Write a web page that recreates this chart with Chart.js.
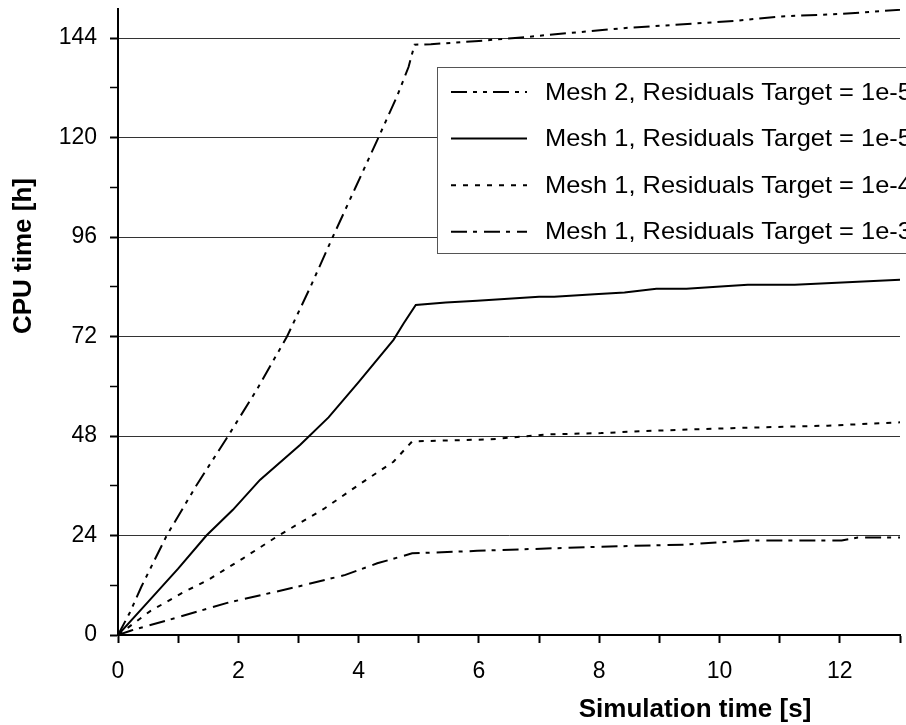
<!DOCTYPE html>
<html lang="en">
<head>
  <meta charset="UTF-8">
  <title>CPU time vs simulation time</title>
  <script src="https://cdn.jsdelivr.net/npm/chart.js"></script>
  <style>
    body {
      margin: 0;
      padding: 0;
      background-color: #ffffff;
    }
    #wrap {
      width: 906px;
      height: 725px;
    }
  </style>
</head>
<body>
  <div id="wrap">
    <canvas id="cpuChart" width="906" height="725"></canvas>
  </div>
  <script>
    // values (simulation time [s] -> CPU time [h])
    const mesh2Time = [0, 0.2, 0.39, 0.81, 1.3, 1.83, 2.3, 2.81, 3.2, 3.57, 3.95, 4.33, 4.64, 4.83, 4.93, 5.2, 6.0, 6.6, 7.5, 8.5, 9.4, 10.3, 11.0, 12.0, 13.0];
    const mesh2Cpu = [0, 5.5, 11.7, 24, 36, 48, 59, 72, 84, 96, 108, 120, 130, 137, 142.4, 142.5, 143.3, 144.0, 145.2, 146.5, 147.3, 148.2, 149.2, 149.8, 150.8];

    const mesh1e5Time = [0, 0.5, 1.0, 1.47, 1.91, 2.36, 3.03, 3.5, 4.0, 4.58, 4.75, 4.95, 5.45, 5.97, 7.0, 7.25, 7.92, 8.42, 8.95, 9.45, 10.08, 10.47, 11.25, 13.0];
    const mesh1e5Cpu = [0, 8, 16, 24, 30.2, 37.4, 45.9, 52.5, 61, 71.2, 75.2, 79.6, 80.2, 80.6, 81.6, 81.6, 82.2, 82.6, 83.5, 83.5, 84.1, 84.5, 84.5, 85.7];

    const mesh1e4Time = [0, 0.53, 1.06, 1.5, 2.08, 2.67, 3.42, 4.0, 4.58, 4.89, 6.2, 7.14, 8.03, 8.75, 10.2, 11.8, 13.0];
    const mesh1e4Cpu = [0, 5.7, 10.1, 13.3, 18.5, 24, 30.4, 36.2, 41.8, 46.7, 47.2, 48.4, 48.7, 49.2, 49.9, 50.5, 51.3];

    const mesh1e3Time = [0, 0.22, 0.86, 1.83, 3.0, 3.78, 4.31, 4.7, 4.89, 5.97, 8.03, 9.42, 10.47, 12.03, 12.3, 13.0];
    const mesh1e3Cpu = [0, 1.1, 3.7, 7.8, 11.7, 14.5, 17.3, 18.9, 19.7, 20.3, 21.3, 21.8, 22.8, 22.8, 23.5, 23.5];

    const seriesLabels = [
      'Mesh 2, Residuals Target = 1e-5',
      'Mesh 1, Residuals Target = 1e-5',
      'Mesh 1, Residuals Target = 1e-4',
      'Mesh 1, Residuals Target = 1e-3'
    ];
    const yTickValues = [0, 12, 24, 36, 48, 60, 72, 84, 96, 108, 120, 132, 144];
    const xTickValues = [0, 1, 2, 3, 4, 5, 6, 7, 8, 9, 10, 11, 12, 13];
    const xTitle = 'Simulation time [s]';
    const yTitle = 'CPU time [h]';

    const FONT = '"Liberation Sans", Arial, Helvetica, sans-serif';

    function zip(xs, ys) {
      return xs.map((x, i) => ({ x: x, y: ys[i] }));
    }

    function lineSet(label, xs, ys, dash) {
      return {
        label: label,
        data: zip(xs, ys),
        borderColor: '#000',
        borderWidth: 2,
        borderDash: dash,
        pointRadius: 0,
        tension: 0,
        fill: false
      };
    }

    // axis titles + legend box drawn at the positions seen in the picture
    const overlay = {
      id: 'overlay',
      afterDraw(chart) {
        const ctx = chart.ctx;
        ctx.save();
        ctx.fillStyle = '#000';
        ctx.textAlign = 'center';
        ctx.textBaseline = 'middle';
        ctx.font = 'bold 26px ' + FONT;
        ctx.fillText(xTitle, 695, 710);
        ctx.save();
        ctx.translate(24, 256);
        ctx.rotate(-Math.PI / 2);
        ctx.fillText(yTitle, 0, 0);
        ctx.restore();

        // legend (box runs past the right edge, text gets cut like in the picture)
        ctx.fillStyle = '#fff';
        ctx.fillRect(437, 67, 480, 186);
        ctx.strokeStyle = '#555';
        ctx.lineWidth = 1;
        ctx.strokeRect(437.5, 67.5, 480, 186);

        ctx.font = '24px ' + FONT;
        ctx.textAlign = 'left';
        chart.data.datasets.forEach((ds, i) => {
          const y = 92 + i * 46.6;
          ctx.strokeStyle = '#000';
          ctx.lineWidth = 2;
          ctx.setLineDash(ds.borderDash || []);
          ctx.beginPath();
          ctx.moveTo(451, y);
          ctx.lineTo(527, y);
          ctx.stroke();
          ctx.setLineDash([]);
          ctx.fillStyle = '#000';
          ctx.save();
          ctx.translate(545, y + 1);
          ctx.scale(1.06, 1);
          ctx.fillText(ds.label, 0, 0);
          ctx.restore();
        });
        ctx.restore();
      }
    };

    new Chart(document.getElementById('cpuChart'), {
      type: 'line',
      data: {
        datasets: [
          lineSet(seriesLabels[0], mesh2Time, mesh2Cpu, [16, 6, 4, 6, 4, 6]),
          lineSet(seriesLabels[1], mesh1e5Time, mesh1e5Cpu, []),
          lineSet(seriesLabels[2], mesh1e4Time, mesh1e4Cpu, [5, 7]),
          lineSet(seriesLabels[3], mesh1e3Time, mesh1e3Cpu, [16, 6, 4, 7])
        ]
      },
      options: {
        responsive: false,
        animation: false,
        layout: { padding: { top: 9, right: 6, left: 0, bottom: 0 } },
        plugins: {
          legend: { display: false },
          tooltip: { enabled: false }
        },
        scales: {
          x: {
            type: 'linear',
            min: 0,
            max: 13,
            afterFit(scale) {
              scale.height = 90;
              scale.paddingLeft = 0;
              scale.paddingRight = 0;
            },
            afterBuildTicks(scale) {
              scale.ticks = xTickValues.map(v => ({ value: v }));
            },
            border: { display: true, color: '#000', width: 2 },
            grid: {
              drawOnChartArea: false,
              drawTicks: true,
              tickLength: 8,
              tickColor: '#000',
              tickWidth: 2
            },
            ticks: {
              autoSkip: false,
              maxRotation: 0,
              padding: 15,
              color: '#000',
              font: { family: FONT, size: 23 },
              callback: v => (v % 2 === 0 ? String(v) : '')
            }
          },
          y: {
            type: 'linear',
            min: 0,
            max: 151,
            afterFit(scale) {
              scale.width = 118;
              scale.paddingTop = 0;
              scale.paddingBottom = 0;
            },
            afterBuildTicks(scale) {
              scale.ticks = yTickValues.map(v => ({ value: v }));
            },
            border: { display: true, color: '#000', width: 2 },
            grid: {
              drawTicks: true,
              tickLength: 8,
              tickColor: '#000',
              tickWidth: c => (c.tick && c.tick.value % 24 === 0 ? 2 : 1.5),
              lineWidth: 1,
              color: c => (c.tick && c.tick.value % 24 === 0 && c.tick.value > 0 ? '#333' : 'rgba(0,0,0,0)')
            },
            ticks: {
              autoSkip: false,
              padding: 13,
              color: '#000',
              font: { family: FONT, size: 23 },
              callback: v => (v % 24 === 0 ? String(v) : '')
            }
          }
        }
      },
      plugins: [overlay]
    });
  </script>
</body>
</html>
